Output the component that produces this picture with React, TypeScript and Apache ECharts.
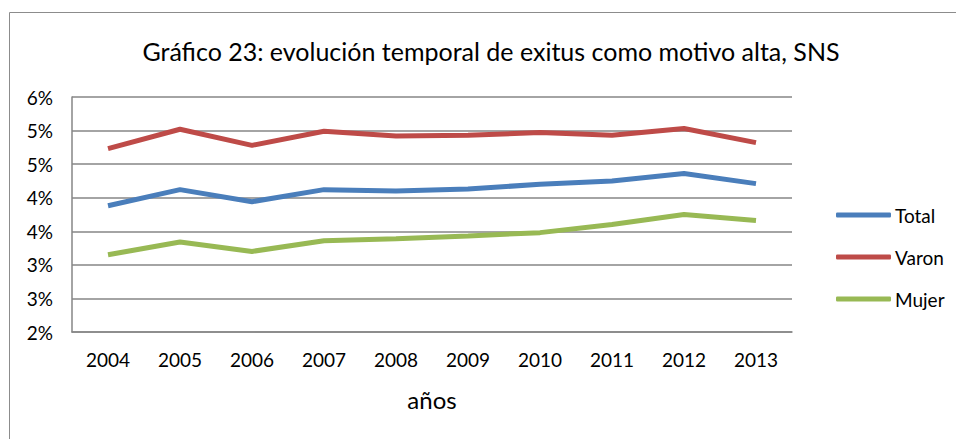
import React, { useEffect, useRef } from "react";
import * as echarts from "echarts";

const years = ["2004", "2005", "2006", "2007", "2008", "2009", "2010", "2011", "2012", "2013"];
const total = [3.88, 4.12, 3.94, 4.12, 4.1, 4.13, 4.2, 4.25, 4.36, 4.21];
const varon = [4.73, 5.02, 4.78, 4.99, 4.92, 4.93, 4.97, 4.93, 5.03, 4.82];
const mujer = [3.15, 3.34, 3.2, 3.36, 3.39, 3.43, 3.48, 3.6, 3.75, 3.66];

const FONT = "Lato";

export default function App() {
  const ref = useRef<HTMLDivElement>(null);
  useEffect(() => {
    const chart = echarts.init(ref.current!, null, { renderer: "svg" });
    const lineSeries = (name: string, data: number[], color: string) => ({
      name,
      type: "line",
      data,
      symbol: "none",
      lineStyle: { width: 5, color },
      itemStyle: { color },
    });
    chart.setOption({
      animation: false,
      backgroundColor: "#fff",
      textStyle: { fontFamily: FONT, color: "#000" },
      title: {
        text: "Gráfico 23: evolución temporal de exitus como motivo alta, SNS",
        left: 486,
        top: 33,
        textAlign: "center",
        textStyle: { fontFamily: FONT, fontSize: 25, fontWeight: "normal", color: "#000" },
      },
      graphic: [
        {
          type: "rect",
          shape: { x: 9.5, y: 12.5, width: 1000, height: 500 },
          style: { fill: "none", stroke: "#8c8c8c", lineWidth: 1 },
          silent: true,
        },
        {
          type: "text",
          x: 432,
          y: 399,
          style: { text: "años", font: `24px ${FONT}`, fill: "#000", align: "center", verticalAlign: "middle" },
        },
      ],
      legend: {
        orient: "vertical",
        left: 831,
        top: 199,
        itemWidth: 55,
        itemHeight: 5,
        itemGap: 20,
        icon: "roundRect",
        textStyle: { fontFamily: FONT, fontSize: 19, color: "#000", lineHeight: 22, padding: [0, 0, 0, -1] },
        data: ["Total", "Varon", "Mujer"],
      },
      grid: { left: 72, right: 164, top: 97, bottom: 107 },
      xAxis: {
        type: "category",
        data: years,
        boundaryGap: true,
        axisLine: { lineStyle: { color: "#868686", width: 1.5 } },
        axisTick: { show: false },
        axisLabel: { fontFamily: FONT, fontSize: 19, color: "#000", margin: 18 },
      },
      yAxis: {
        type: "value",
        min: 2,
        max: 5.5,
        interval: 0.5,
        axisLine: { show: true, lineStyle: { color: "#868686", width: 1.5 } },
        axisTick: { show: false },
        splitLine: { lineStyle: { color: "#868686", width: 1.5 } },
        axisLabel: {
          fontFamily: FONT,
          fontSize: 19,
          color: "#000",
          margin: 19,
          formatter: (v: number) => Math.round(v) + "%",
        },
      },
      series: [
        lineSeries("Total", total, "#4A7EBB"),
        lineSeries("Varon", varon, "#BE4B48"),
        lineSeries("Mujer", mujer, "#98B954"),
      ],
    });
    return () => chart.dispose();
  }, []);
  return (
    <div
      ref={ref}
      style={{ position: "absolute", left: 0, top: 0, width: 956, height: 439 }}
    />
  );
}
